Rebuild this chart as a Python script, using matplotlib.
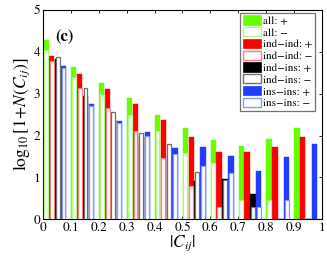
import numpy as np
import matplotlib
matplotlib.use('Agg')
import matplotlib.pyplot as plt
from matplotlib.patches import Patch

plt.rcParams['font.family'] = ['STIXGeneral', 'DejaVu Serif']
plt.rcParams['mathtext.fontset'] = 'stix'

# left edges of the |C_ij| bins
bin_left = [0.0, 0.1, 0.2, 0.3, 0.4, 0.5, 0.6, 0.7, 0.8, 0.9]

# log10[1+N(C_ij)]
all_pos    = [4.28, 3.63, 3.25, 2.89, 2.49, 2.17, 1.89, 1.75, 1.92, 2.18]
all_neg    = [4.05, 3.41, 2.99, 2.50, 2.10, 1.58, 1.34, 0.46, 0.46, 0.00]
indind_pos = [3.91, 3.47, 3.12, 2.75, 2.36, 1.96, 1.60, 1.60, 1.73, 1.96]
indind_neg = [3.77, 3.13, 2.65, 2.10, 1.46, 0.80, 0.29, 0.00, 0.00, 0.00]
indins_pos = [3.83, 2.95, 2.37, 1.97, 1.52, 0.91, 0.96, 0.60, 0.00, 0.00]
indins_neg = [3.87, 3.13, 2.56, 2.05, 1.80, 1.14, 0.93, 0.29, 0.00, 0.00]
insins_pos = [3.66, 2.75, 2.34, 2.09, 1.70, 1.72, 1.51, 1.15, 1.48, 1.80]
insins_neg = [3.62, 2.70, 2.30, 1.99, 1.55, 1.28, 1.11, 0.29, 0.46, 0.00]

groups = [
    ('all', all_pos, all_neg, '#66ff00', '#a8ff80'),
    ('ind\u2212ind', indind_pos, indind_neg, '#ff0000', '#ff7f7f'),
    ('ind\u2212ins', indins_pos, indins_neg, '#000000', '#707070'),
    ('ins\u2212ins', insins_pos, insins_neg, '#1f3cff', '#8898ff'),
]

fig = plt.figure(figsize=(3.27, 2.61), dpi=100)
ax = fig.add_axes([0.1315, 0.160, 0.853, 0.8017])

x = np.array(bin_left)
width = 0.019
handles = []
for k, (name, pos, neg, col, light) in enumerate(groups):
    xc = x + 0.0105 + 0.021 * k
    ax.bar(xc, pos, width=width, color=col, edgecolor=col, linewidth=0.3, zorder=2)
    ax.bar(xc, neg, width=0.014, color='white', edgecolor=light, linewidth=0.9, zorder=3)
    handles.append(Patch(facecolor=col, edgecolor=col, linewidth=0.5, label=name + ': +'))
    handles.append(Patch(facecolor='white', edgecolor=light, linewidth=1.0, label=name + ': \u2212'))

ax.set_xlim(0, 1)
ax.set_ylim(0, 5)
ax.set_xticks(np.arange(0, 1.01, 0.1))
ax.set_xticklabels(['0', '0.1', '0.2', '0.3', '0.4', '0.5', '0.6', '0.7', '0.8', '0.9', '1'])
ax.set_yticks(range(6))
ax.tick_params(direction='in', top=True, right=True, length=2.5, width=0.6,
               labelsize=9.5, pad=2)
for s in ax.spines.values():
    s.set_linewidth(0.8)

ax.set_xlabel(r'$|C_{ij}|$', fontsize=12.5, labelpad=0)
ax.set_ylabel(r'$\log_{10}[1\!+\!N(C_{ij})]$', fontsize=12.5, labelpad=1)
ax.text(0.043, 0.905, '(c)', transform=ax.transAxes, fontsize=12, fontweight='bold',
        va='top', ha='left')

leg = ax.legend(handles=handles, loc='upper right', bbox_to_anchor=(0.975, 0.988),
                fontsize=8, handlelength=1.6, handleheight=0.9, labelspacing=0.12,
                handletextpad=0.2, borderpad=0.25, borderaxespad=0.0,
                fancybox=False, framealpha=1)
leg.get_frame().set_edgecolor('0.45')
leg.get_frame().set_linewidth(0.9)

fig.savefig('out.png', dpi=100)
